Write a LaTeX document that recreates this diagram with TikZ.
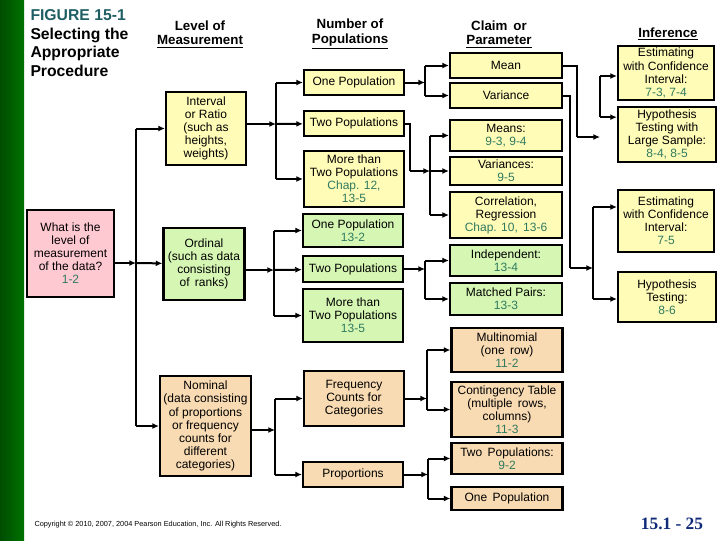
\documentclass[tikz,border=0pt]{standalone}
\usepackage{fontspec}
\setmainfont{Liberation Sans}
\usetikzlibrary{arrows.meta}
\definecolor{yl}{HTML}{FFFCB8}
\definecolor{gr}{HTML}{D6F7B4}
\definecolor{og}{HTML}{F9DBB3}
\definecolor{pk}{HTML}{FFC9D2}
\definecolor{rf}{HTML}{2F7A5F}
\definecolor{tl}{HTML}{1F5F63}
\definecolor{nv}{HTML}{102A7A}
\newcommand{\rfn}[1]{\textcolor{rf}{#1}}
\tikzset{every picture/.style={line width=0.75pt},
  box/.style={draw=black,line width=1.6pt,align=center,inner sep=1pt,
    font=\fontsize{9}{9.8}\selectfont},
  hd/.style={align=center,font=\fontsize{10}{11}\selectfont\bfseries},
  arr/.style={line width=1.5pt,-{Latex[length=5pt,width=4.5pt]}},
  ln/.style={line width=1.5pt}}
\begin{document}
\begin{tikzpicture}[x=0.75pt,y=0.75pt,yscale=-1,xscale=1]
\useasboundingbox (0,0) rectangle (720,540);
\shade [left color=black!70!green,right color=green!45!black] (0,0) rectangle (24,540);

\node [anchor=north west,inner sep=0pt,align=left,font=\fontsize{11.8}{14}\selectfont\bfseries] (ttl) at (30,9)
  {\textcolor{tl}{FIGURE 15-1}\\Selecting the\\Appropriate\\Procedure};
\node [hd] (h1) at (200,34) {Level of\\\underline{Measurement}};
\node [hd] (h2) at (350,34) {Number of\\\underline{Populations}};
\node [hd] (h3) at (499,34) {Claim\, or\\\underline{Parameter}};
\node [hd] (h4) at (668,34) {\underline{Inference}};

% level of measurement
\node [box,fill=pk,minimum width=65.25pt,minimum height=65.25pt] (q) at (70.5,253.5) {What is the\\level of\\measurement\\of the data?\\\rfn{1-2}};
\node [box,fill=yl,minimum width=60pt,minimum height=54.75pt] (intv) at (206,128.5) {Interval\\or Ratio\\(such as\\heights,\\weights)};
\node [box,fill=gr,minimum width=60.75pt,minimum height=54pt] (ord) at (204,264) {Ordinal\\(such as data\\consisting\\of\, ranks)};
\node [box,fill=og,minimum width=68.25pt,minimum height=75pt] (nom) at (205.5,426) {Nominal\\(data consisting\\of proportions\\or frequency\\counts for\\different\\categories)};

% number of populations
\node [box,fill=yl,minimum width=75pt,minimum height=18.75pt] (p1) at (354,82.5) {One Population};
\node [box,fill=yl,minimum width=75pt,minimum height=18.75pt] (p2) at (354,123.5) {Two Populations};
\node [box,fill=yl,minimum width=75pt,minimum height=42pt] (p3) at (354,179) {More than\\Two Populations\\\rfn{Chap. 12,}\\\rfn{13-5}};
\node [box,fill=gr,minimum width=75pt,minimum height=24.75pt] (o1) at (353,230.5) {One Population\\\rfn{13-2}};
\node [box,fill=gr,minimum width=75pt,minimum height=19.5pt] (o2) at (353,269) {Two Populations};
\node [box,fill=gr,minimum width=75pt,minimum height=39.75pt] (o3) at (353,315.5) {More than\\Two Populations\\\rfn{13-5}};
\node [box,fill=og,minimum width=75pt,minimum height=41.25pt] (fr) at (354,398.5) {Frequency\\Counts for\\Categories};
\node [box,fill=og,minimum width=75pt,minimum height=18.75pt] (pr) at (353,474.5) {Proportions};

% claim or parameter
\node [box,fill=yl,minimum width=84pt,minimum height=18.75pt] (mean) at (506,65.5) {Mean};
\node [box,fill=yl,minimum width=84pt,minimum height=18.75pt] (var) at (506,95.5) {Variance};
\node [box,fill=yl,minimum width=84pt,minimum height=23.25pt] (means) at (506,135.5) {Means:\\\rfn{9-3, 9-4}};
\node [box,fill=yl,minimum width=84pt,minimum height=21pt] (vars) at (506,171) {Variances:\\\rfn{9-5}};
\node [box,fill=yl,minimum width=84pt,minimum height=34.5pt] (corr) at (506,215) {Correlation,\\Regression\\\rfn{Chap. 10,\, 13-6}};
\node [box,fill=gr,minimum width=84pt,minimum height=23.25pt] (ind) at (506,260.5) {Independent:\\\rfn{13-4}};
\node [box,fill=gr,minimum width=84pt,minimum height=24pt] (mat) at (506,299) {Matched Pairs:\\\rfn{13-3}};
\node [box,fill=og,minimum width=83.25pt,minimum height=33pt] (mul) at (507,350) {Multinomial\\(one\, row)\\\rfn{11-2}};
\node [box,fill=og,minimum width=83.25pt,minimum height=41.25pt] (con) at (507,409.5) {Contingency Table\\(multiple\, rows,\\columns)\\\rfn{11-3}};
\node [box,fill=og,minimum width=83.25pt,minimum height=23.25pt] (tp) at (507,458.5) {Two\, Populations:\\\rfn{9-2}};
\node [box,fill=og,minimum width=83.25pt,minimum height=17.25pt] (op) at (507,498.5) {One\, Population};

% inference
\node [box,fill=yl,minimum width=72pt,minimum height=40.5pt] (e1) at (666,73) {Estimating\\with Confidence\\Interval:\\\rfn{7-3, 7-4}};
\node [box,fill=yl,minimum width=73.5pt,minimum height=41.25pt] (t1) at (667,134.5) {Hypothesis\\Testing with\\Large Sample:\\\rfn{8-4, 8-5}};
\node [box,fill=yl,minimum width=72pt,minimum height=46.5pt] (e2) at (666,221) {Estimating\\with Confidence\\Interval:\\\rfn{7-5}};
\node [box,fill=yl,minimum width=73.5pt,minimum height=37.5pt] (t2) at (667,297) {Hypothesis\\Testing:\\\rfn{8-6}};

\node [anchor=west,inner sep=0pt,font=\fontsize{5.5}{6}\selectfont] (cpy) at (34,525) {Copyright \textcopyright{} 2010, 2007, 2004 Pearson Education, Inc. All Rights Reserved.};
\node [inner sep=0pt,text=nv,font=\fontsize{13}{14}\selectfont\bfseries] (pg) at (672,524) {\fontspec{Liberation Serif}15.1 - 25};

% trunks
\coordinate (ka) at (136,263);
\coordinate (kb) at (276,124);
\coordinate (kc) at (274,270);
\coordinate (kd) at (275,430);
\coordinate (ke) at (425,82.5);
\coordinate (kf) at (430,171);
\coordinate (kf0) at (410,171);
\coordinate (kg) at (425,269);
\coordinate (kh) at (427,398.5);
\coordinate (ki) at (428,474.5);
\coordinate (kj) at (600,137);
\coordinate (kj0) at (577,137);
\coordinate (kk) at (593,268);
\coordinate (kk0) at (570,268);

\draw [arr] (q.east |- ka) -- (ka);
\draw [ln] (ka |- intv) -- (ka |- nom);
\draw [arr] (ka |- intv) -- (intv);
\draw [arr] (ka) -- (ord);
\draw [arr] (ka |- nom) -- (nom);

\draw [arr] (intv.east |- kb) -- (kb);
\draw [ln] (kb |- p1) -- (kb |- p3);
\draw [arr] (kb |- p1) -- (p1);
\draw [arr] (kb) -- (p2);
\draw [arr] (kb |- p3) -- (p3);

\draw [arr] (ord.east |- kc) -- (kc);
\draw [ln] (kc |- o1) -- (kc |- o3);
\draw [arr] (kc |- o1) -- (o1);
\draw [arr] (kc) -- (o2);
\draw [arr] (kc |- o3) -- (o3);

\draw [arr] (nom.east |- kd) -- (kd);
\draw [ln] (kd |- fr) -- (kd |- pr);
\draw [arr] (kd |- fr) -- (fr);
\draw [arr] (kd |- pr) -- (pr);

\draw [arr] (p1) -- (ke);
\draw [ln] (ke |- mean) -- (ke |- var);
\draw [arr] (ke |- mean) -- (mean);
\draw [arr] (ke |- var) -- (var);

\draw [ln] (p2.east) -| (kf0);
\draw [arr] (kf0) -- (kf);
\draw [ln] (kf |- means) -- (kf |- corr);
\draw [arr] (kf |- means) -- (means);
\draw [arr] (kf) -- (vars);
\draw [arr] (kf |- corr) -- (corr);

\draw [arr] (o2) -- (kg);
\draw [ln] (kg |- ind) -- (kg |- mat);
\draw [arr] (kg |- ind) -- (ind);
\draw [arr] (kg |- mat) -- (mat);

\draw [arr] (fr) -- (kh);
\draw [ln] (kh |- mul) -- (kh |- con);
\draw [arr] (kh |- mul) -- (mul);
\draw [arr] (kh |- con) -- (con);

\draw [arr] (pr) -- (ki);
\draw [ln] (ki |- tp) -- (ki |- op);
\draw [arr] (ki |- tp) -- (tp);
\draw [arr] (ki |- op) -- (op);

\draw [ln] (mean.east) -| (kj0);
\draw [arr] (kj0) -- (kj);
\draw [ln] ([yshift=2.25pt]kj |- e1) -- ([yshift=-13pt]kj |- t1);
\draw [arr] ([yshift=2.25pt]kj |- e1) -- ([yshift=2.25pt]e1.west);
\draw [arr] ([yshift=-13pt]kj |- t1) -- ([yshift=-13pt]t1.west);

\draw [ln] (var.east) -| (kk0);
\draw [arr] (kk0) -- (kk);
\draw [ln] ([yshift=-10.5pt]kk |- e2) -- ([yshift=1.5pt]kk |- t2);
\draw [arr] ([yshift=-10.5pt]kk |- e2) -- ([yshift=-10.5pt]e2.west);
\draw [arr] ([yshift=1.5pt]kk |- t2) -- ([yshift=1.5pt]t2.west);

\end{tikzpicture}
\end{document}
